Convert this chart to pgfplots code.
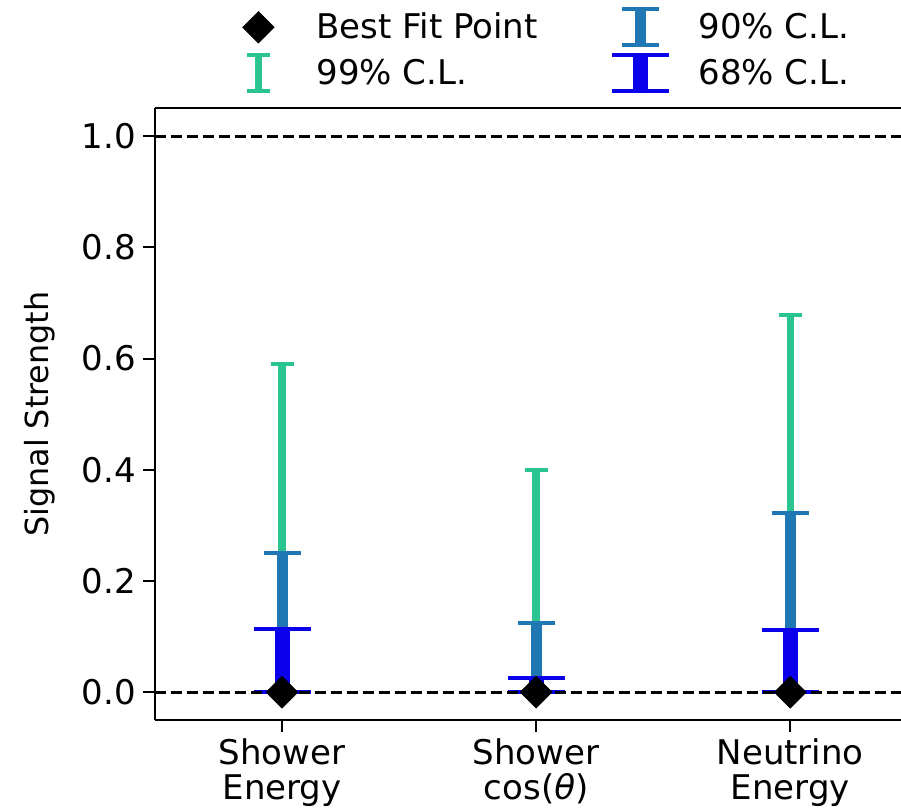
\documentclass[border=0pt]{standalone}
\usepackage{fontspec}
\setmainfont{DejaVu Sans}
\usepackage{pgfplots}
\pgfplotsset{compat=1.18}
\definecolor{c99}{RGB}{42,196,146}
\definecolor{c90}{RGB}{31,119,180}
\definecolor{c68}{RGB}{10,0,235}
\begin{document}
\begin{tikzpicture}
\begin{axis}[
  at={(0,0)}, anchor=south west,
  scale only axis, width=373pt, height=305.8pt,
  xmin=-0.5, xmax=2.436, ymin=-0.05, ymax=1.05,
  axis x line*=box, axis y line*=left,
  axis line style={line width=1pt, black, -},
  xtick={0,1,2},
  xticklabels={Shower\\Energy, Shower\\cos(\textit{θ}), Neutrino\\Energy},
  xticklabel style={align=center, font=\fontsize{17}{17.5}\selectfont},
  ytick={0,0.2,0.4,0.6,0.8,1.0},
  yticklabels={0.0,0.2,0.4,0.6,0.8,1.0},
  yticklabel style={font=\fontsize{17}{17.5}\selectfont},
  tick align=outside, major tick length=6pt,
  xtick pos=left, ytick pos=left,
  major tick style={line width=1pt, black},
  every axis y label/.style={at={(axis description cs:-0.154,0.5)}, rotate=90, anchor=center, font=\fontsize{15.9}{16.5}\selectfont},
  ylabel={Signal Strength},
  legend columns=2,
  legend style={draw=none, fill=none, at={(axis description cs:0,1)}, anchor=north west,
    xshift=29.5pt, yshift=52.5pt, inner sep=0pt, font=\fontsize{17}{17.5}\selectfont,
    column sep=0pt, row sep=-1.5pt},
]
% legend entries (row-wise: Best Fit, 90%, 99%, 68%)
\addlegendimage{legend image code/.code={
  \path[draw=none, fill=none] (0pt,-9pt) rectangle (49pt,9pt);
  \fill[black] (22pt,7.8pt) -- (29.8pt,0pt) -- (22pt,-7.8pt) -- (14.2pt,0pt) -- cycle;}}
\addlegendentry{\makebox[138pt][l]{Best Fit Point}}
\addlegendimage{legend image code/.code={
  \path[draw=none, fill=none] (0pt,-9pt) rectangle (49pt,9pt);
  \draw[c90, line width=5.5pt] (22pt,-9pt) -- (22pt,9pt);
  \draw[c90, line width=2pt] (12.75pt,9pt) -- (31.25pt,9pt);
  \draw[c90, line width=2pt] (12.75pt,-9pt) -- (31.25pt,-9pt);}}
\addlegendentry{90\% C.L.}
\addlegendimage{legend image code/.code={
  \path[draw=none, fill=none] (0pt,-9pt) rectangle (49pt,9pt);
  \draw[c99, line width=3.7pt] (22pt,-9pt) -- (22pt,9pt);
  \draw[c99, line width=2pt] (16.25pt,9pt) -- (27.75pt,9pt);
  \draw[c99, line width=2pt] (16.25pt,-9pt) -- (27.75pt,-9pt);}}
\addlegendentry{\makebox[138pt][l]{99\% C.L.}}
\addlegendimage{legend image code/.code={
  \path[draw=none, fill=none] (0pt,-9pt) rectangle (49pt,9pt);
  \draw[c68, line width=7.5pt] (22pt,-9pt) -- (22pt,9pt);
  \draw[c68, line width=2pt] (7.75pt,9pt) -- (36.25pt,9pt);
  \draw[c68, line width=2pt] (7.75pt,-9pt) -- (36.25pt,-9pt);}}
\addlegendentry{68\% C.L.}
% 99% C.L.
\addplot[c99, only marks, mark=none, forget plot,
  error bars/.cd, y dir=both, y explicit,
  error bar style={line width=3.7pt, c99},
  error mark options={line width=2pt, c99, mark size=5.75pt, rotate=90}]
  coordinates {(0,0) += (0,0.590) -= (0,0) (1,0) += (0,0.399) -= (0,0) (2,0) += (0,0.678) -= (0,0)};
% 90% C.L.
\addplot[c90, only marks, mark=none, forget plot,
  error bars/.cd, y dir=both, y explicit,
  error bar style={line width=5.5pt, c90},
  error mark options={line width=2pt, c90, mark size=9.25pt, rotate=90}]
  coordinates {(0,0) += (0,0.251) -= (0,0) (1,0) += (0,0.124) -= (0,0) (2,0) += (0,0.322) -= (0,0)};
% 68% C.L.
\addplot[c68, only marks, mark=none, forget plot,
  error bars/.cd, y dir=both, y explicit,
  error bar style={line width=7.5pt, c68},
  error mark options={line width=2pt, c68, mark size=14.25pt, rotate=90}]
  coordinates {(0,0) += (0,0.113) -= (0,0) (1,0) += (0,0.026) -= (0,0) (2,0) += (0,0.1115) -= (0,0)};
% reference lines
\addplot[black, line width=1.6pt, dash pattern=on 5.5pt off 2.5pt, forget plot] coordinates {(-0.5,1) (2.436,1)};
\addplot[black, line width=1.6pt, dash pattern=on 5.5pt off 2.5pt, forget plot] coordinates {(-0.5,0) (2.436,0)};
% best fit points
\addplot[black, only marks, mark=square*, mark size=5.6pt, mark options={rotate=45}, forget plot]
  coordinates {(0,0) (1,0) (2,0)};
\end{axis}
\pgfresetboundingbox
\path[use as bounding box] (-77.5pt,-45pt) rectangle (373pt,360pt);
\end{tikzpicture}
\end{document}
